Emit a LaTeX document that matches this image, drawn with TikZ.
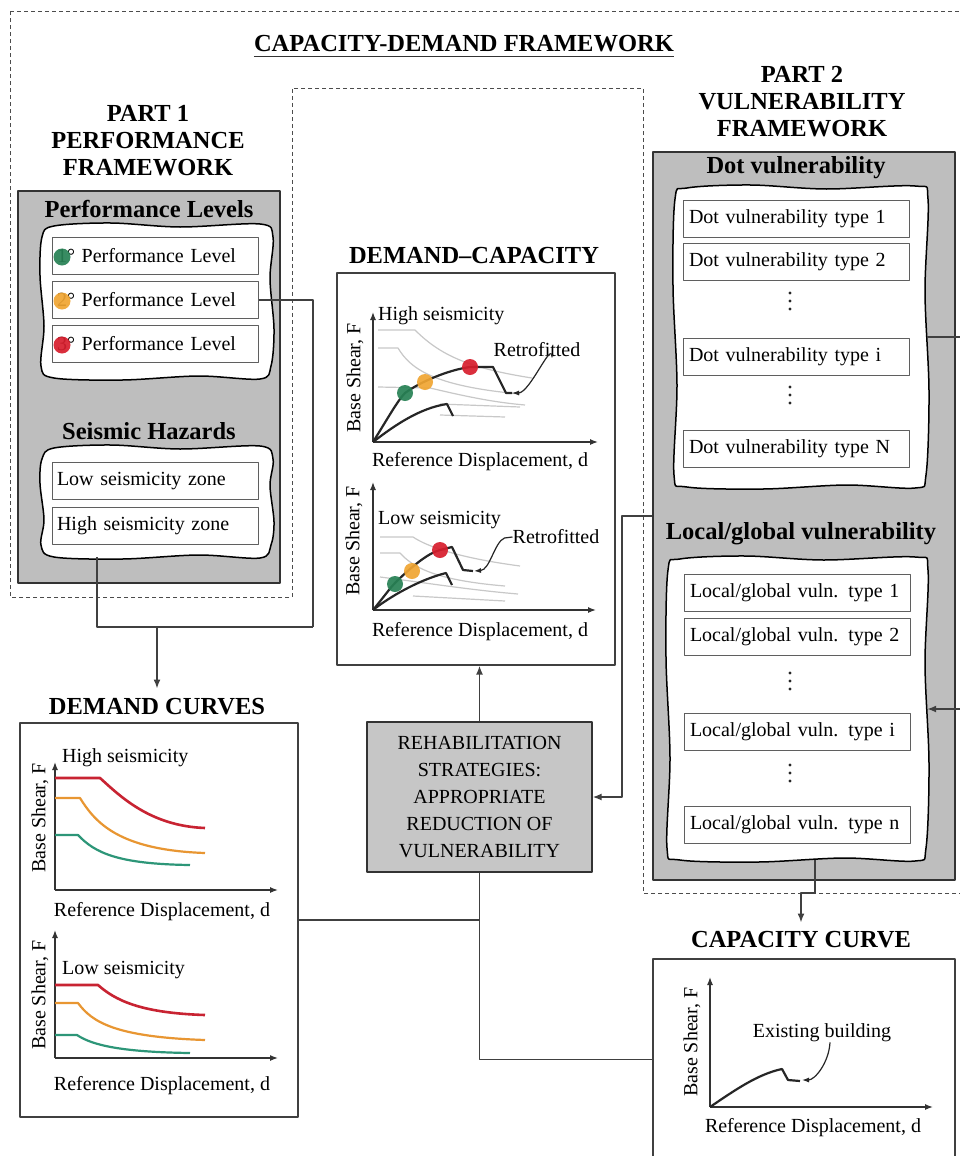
\documentclass[tikz,border=0pt]{standalone}
\usepackage{fontspec}
\setmainfont{Liberation Serif}
\usetikzlibrary{arrows.meta,calc}

\definecolor{panel}{RGB}{190,190,190}
\definecolor{rehabfill}{RGB}{198,198,198}
\definecolor{rowedge}{RGB}{95,95,95}
\definecolor{dmred}{RGB}{200,35,50}
\definecolor{dmorange}{RGB}{232,150,50}
\definecolor{dmteal}{RGB}{45,150,120}
\definecolor{plgreen}{RGB}{40,130,85}
\definecolor{plorange}{RGB}{240,165,50}
\definecolor{plred}{RGB}{215,30,45}
\definecolor{faint}{RGB}{200,200,200}

% cloud-like rounded box: name, x1, y1, x2, y2 (y grows downwards)
\newcommand\wavybox[5]{%
  \draw[wavyline] plot[smooth cycle, tension=0.55] coordinates {
    ({#2+12},{#3+1}) ({#2+0.3*(#4-#2)},{#3-2}) ({#2+0.6*(#4-#2)},{#3+2}) ({#4-12},{#3-1})
    ({#4+1},{#3+12}) ({#4-2},{#3+0.35*(#5-#3)}) ({#4+2},{#3+0.68*(#5-#3)}) ({#4-1},{#5-12})
    ({#4-12},{#5+1}) ({#2+0.68*(#4-#2)},{#5-2}) ({#2+0.35*(#4-#2)},{#5+2}) ({#2+12},{#5})
    ({#2-1},{#5-12}) ({#2+2},{#3+0.66*(#5-#3)}) ({#2-2},{#3+0.33*(#5-#3)}) ({#2},{#3+12})};
  \path ({(#2+#4)/2},{(#3+#5)/2}) node[inner sep=0, minimum width={(#4-#2)*1pt},
    minimum height={(#5-#3)*1pt}] (#1) {};
}
% three stacked dots marking omitted rows: x, centre y
\newcommand\vdotmark[2]{%
  \foreach \k in {-8,0,8} \fill[black!85] (#1,{#2+\k}) circle (1.7);
}

\begin{document}
\begin{tikzpicture}[x=1pt, y=-1pt, line join=round,
  body/.style={font=\fontsize{20}{24}\selectfont, inner sep=0},
  hdr/.style={font=\bfseries\fontsize{24.5}{27}\selectfont, align=center, inner sep=0},
  frame/.style={draw=black!70, line width=1pt, dash pattern=on 4pt off 3pt},
  panelbox/.style={draw=black!80, fill=panel, line width=1.4pt, inner sep=0},
  chartbox/.style={draw=black!75, fill=white, line width=1.3pt, inner sep=0},
  wavyline/.style={draw=black, fill=white, line width=1.5pt},
  rowA/.style={draw=rowedge, fill=white, line width=1pt, minimum width=206pt,
    minimum height=37pt, text width=196pt, inner xsep=5pt, inner ysep=0, align=left,
    font=\fontsize{20}{24}\selectfont},
  rowB/.style={rowA, minimum width=226pt, text width=214pt, inner xsep=6pt},
  conn/.style={draw=black!75, line width=1.5pt},
  arr/.style={-{Latex[length=9pt,width=7pt]}},
  axis/.style={draw=black!80, line width=1.3pt, -{Latex[length=8pt,width=6pt]}},
  capl/.style={draw=black!85, line width=2.2pt},
  faintl/.style={draw=faint, line width=1.2pt},
  note/.style={draw=black!85, line width=1.2pt, -{Latex[length=7pt,width=5pt]}},
  pdot/.style={opacity=0.92}]

\useasboundingbox (0,0) rectangle (960,1156);
\fill[white] (0,0) rectangle (960,1156);

% ---------- dashed framework outline ----------
\draw[frame] (10,12) -- (963,12) -- (963,893) -- (643,893) -- (643,88)
  -- (292,88) -- (292,597) -- (10,597) -- cycle;

\node[hdr] (title) at (464,44) {CAPACITY-DEMAND FRAMEWORK};
\draw[line width=1.5pt, black!80] ($(title.south west)+(0,4)$) -- ($(title.south east)+(0,4)$);

% ---------- Part 1 ----------
\node[hdr] (p1) at (148,141) {PART 1\\PERFORMANCE\\FRAMEWORK};
\node[panelbox, minimum width=262pt, minimum height=392pt] (g1) at (149,387) {};
\node[hdr] (plh) at (149,209) {Performance Levels};
\wavybox{w1}{42}{225}{272}{378}
\node[rowA] (pl1) at (155,256) {1° Performance Level};
\node[rowA] (pl2) at (155,300) {2° Performance Level};
\node[rowA] (pl3) at (155,344) {3° Performance Level};
\fill[plgreen, pdot] (62,257) circle (8.5);
\fill[plorange, pdot] (62,301) circle (8.5);
\fill[plred, pdot] (62,345) circle (8.5);

\node[hdr] (shh) at (149,431) {Seismic Hazards};
\wavybox{w2}{42}{447}{272}{557}
\node[rowA] (sz1) at (155,481) {Low seismicity zone};
\node[rowA] (sz2) at (155,526) {High seismicity zone};

% ---------- Part 2 ----------
\node[hdr] (p2) at (802,102) {PART 2\\VULNERABILITY\\FRAMEWORK};
\node[panelbox, minimum width=302pt, minimum height=728pt] (g2) at (804,516) {};
\node[hdr] (dvh) at (796,168) {Dot vulnerability};
\wavybox{w3}{675}{187}{927}{487}
\node[rowB] (dv1) at (796,219) {Dot vulnerability type 1};
\node[rowB] (dv2) at (796,262) {Dot vulnerability type 2};
\vdotmark{790}{301}
\node[rowB] (dvi) at (796,357) {Dot vulnerability type i};
\vdotmark{790}{395}
\node[rowB] (dvn) at (796,449) {Dot vulnerability type N};

\node[hdr] (lgh) at (801,534) {Local/global vulnerability};
\wavybox{w4}{668}{558}{927}{860}
\node[rowB] (lg1) at (797,593) {Local/global vuln. type 1};
\node[rowB] (lg2) at (797,637) {Local/global vuln. type 2};
\vdotmark{790}{681}
\node[rowB] (lgi) at (797,732) {Local/global vuln. type i};
\vdotmark{790}{773}
\node[rowB] (lgn) at (797,825) {Local/global vuln. type n};

% ---------- Demand-capacity ----------
\node[hdr] (dct) at (474,256) {DEMAND--CAPACITY};
\node[chartbox, minimum width=278pt, minimum height=392pt] (dcb) at (476,469) {};

% upper chart: high seismicity
\draw[axis] (373,442) -- (373,312);
\draw[axis] (373,442) -- (598,442);
\node[body, rotate=90] (dcy1) at (355,378) {Base Shear, F};
\node[body, anchor=west] (dch1) at (378,316) {High seismicity};
\draw[faintl] (378,330) -- (415,330) .. controls (440,355) and (468,368) .. (532,378);
\draw[faintl] (378,348) -- (398,348) .. controls (410,368) and (432,386) .. (520,394);
\draw[faintl] (378,387) -- (430,388) .. controls (460,395) and (490,402) .. (525,405);
\draw[faintl] (440,404) -- (520,407);
\draw[faintl] (440,415) -- (505,417);
\draw[capl] (373,442) .. controls (395,425) and (420,408) .. (447,404) -- (453,416);
\draw[capl] (373,442) .. controls (388,418) and (398,400) .. (405,393)
  .. controls (420,382) and (448,370) .. (470,367) -- (493,367) -- (506,393) -- (512,393);
\fill[plgreen, pdot] (405,393) circle (8);
\fill[plorange, pdot] (425,382) circle (8);
\fill[plred, pdot] (470,367) circle (8);
\node[body] (rt1) at (537,350) {Retrofitted};
\draw[note] ([xshift=15pt]rt1.south) .. controls +(0,-18) and (530,393) .. (512,393);
\node[body] (dcx1) at (480,462) {Reference Displacement, d};

% lower chart: low seismicity
\draw[axis] (373,610) -- (373,482);
\draw[axis] (373,610) -- (596,610);
\node[body, rotate=90] (dcy2) at (354,541) {Base Shear, F};
\node[body, anchor=west] (dcl2) at (378,520) {Low seismicity};
\draw[faintl] (380,537) -- (413,537) .. controls (428,547) and (460,558) .. (520,566);
\draw[faintl] (380,553) -- (400,553) .. controls (412,566) and (432,580) .. (505,586);
\draw[faintl] (380,577) .. controls (420,582) and (470,590) .. (518,594);
\draw[faintl] (413,596) -- (505,601);
\draw[capl] (373,610) .. controls (388,598) and (418,580) .. (446,573) -- (452,585);
\draw[capl] (373,610) .. controls (383,598) and (390,588) .. (395,583)
  .. controls (410,568) and (428,553) .. (440,550) -- (452,547) -- (463,570) -- (473,571);
\fill[plgreen, pdot] (395,584) circle (8);
\fill[plorange, pdot] (412,571) circle (8);
\fill[plred, pdot] (440,550) circle (8);
\node[body] (rt2) at (556,537) {Retrofitted};
\draw[note] (rt2.west) -- ++(-8,1) .. controls +(-10,4) and (490,570) .. (474,571);
\node[body] (dcx2) at (480,632) {Reference Displacement, d};

% ---------- Demand curves ----------
\node[hdr] (dmt) at (157,707) {DEMAND CURVES};
\node[chartbox, minimum width=278pt, minimum height=394pt] (dmb) at (159,920) {};

\draw[axis] (55,890) -- (55,762);
\draw[axis] (55,890) -- (278,890);
\node[body, rotate=90] (dmy1) at (40,818) {Base Shear, F};
\node[body, anchor=west] (dmh1) at (62,758) {High seismicity};
\draw[dmred, line width=2.6pt] (55,778) -- (100,778) .. controls (120,796) and (150,826) .. (205,828);
\draw[dmorange, line width=2.2pt] (55,798) -- (80,798) .. controls (95,822) and (118,850) .. (205,853);
\draw[dmteal, line width=2.2pt] (55,835) -- (78,835) .. controls (95,853) and (118,864) .. (190,865);
\node[body] (dmx1) at (162,912) {Reference Displacement, d};

\draw[axis] (55,1058) -- (55,930);
\draw[axis] (55,1058) -- (278,1058);
\node[body, rotate=90] (dmy2) at (40,995) {Base Shear, F};
\node[body, anchor=west] (dml2) at (62,970) {Low seismicity};
\draw[dmred, line width=2.6pt] (55,985) -- (98,985) .. controls (115,1000) and (140,1013) .. (205,1015);
\draw[dmorange, line width=2.2pt] (55,1003) -- (78,1003) .. controls (92,1022) and (115,1037) .. (205,1040);
\draw[dmteal, line width=2.2pt] (55,1035) -- (77,1035) .. controls (92,1045) and (120,1052) .. (190,1053);
\node[body] (dmx2) at (162,1086) {Reference Displacement, d};

% ---------- Rehabilitation ----------
\node[draw=black!80, fill=rehabfill, line width=1.3pt, minimum width=225pt, minimum height=150pt,
  align=center, inner sep=0, font=\fontsize{20}{27}\selectfont] (rehab) at (479.5,797)
  {REHABILITATION\\STRATEGIES:\\APPROPRIATE\\REDUCTION OF\\VULNERABILITY};

% ---------- Capacity curve ----------
\node[hdr] (cct) at (801,940) {CAPACITY CURVE};
\node[chartbox, minimum width=302pt, minimum height=201pt] (capb) at (804,1059.5) {};
\draw[axis] (710,1107) -- (710,977);
\draw[axis] (710,1107) -- (933,1107);
\node[body, rotate=90] (ccy) at (692,1042) {Base Shear, F};
\draw[capl] (710,1107) .. controls (735,1090) and (758,1074) .. (782,1069) -- (788,1080) -- (800,1081);
\node[body] (exb) at (822,1033) {Existing building};
\draw[note] ([xshift=8pt]exb.south) .. controls +(-1,20) and (815,1080) .. (802,1080);
\node[body] (ccx) at (813,1128) {Reference Displacement, d};

% ---------- connectors ----------
\coordinate (j1) at (97,627);
\coordinate (j2) at (313,627);
\draw[conn] (pl2.east) -| (j2);
\draw[conn] (w2.south -| j1) -- (j1) -- (j2);
\draw[conn, arr, shorten >=10pt] (dmt.north |- j1) -- (dmt.north);

\coordinate (jr) at (622,0);
\draw[conn, arr] (g2.west) -| (jr |- rehab.east) -- (rehab.east);
\draw[conn, arr] (rehab.north) -- (rehab.north |- dcb.south);
\draw[conn] (rehab.south) |- (capb.west);
\draw[conn] (dmb.east) -- (dmb.east -| rehab.south);

\coordinate (jg) at (815,893);
\draw[conn, arr, shorten >=9pt] (w4.south -| jg) -- (jg) -| (cct.north);
\coordinate (re1) at (960,337);
\coordinate (re2) at (960,709);
\draw[conn] (w3.east) -- (re1);
\draw[conn, arr] (re2) -- (w4.east);
\end{tikzpicture}
\end{document}
